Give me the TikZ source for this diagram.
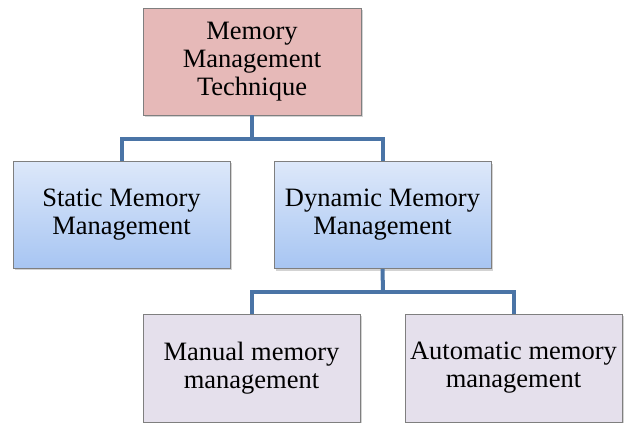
\documentclass[tikz,border=0pt]{standalone}
\usepackage{fontspec}
\setmainfont{Liberation Serif}
\usetikzlibrary{shadows}
\definecolor{topfill}{HTML}{E6B9B8}
\definecolor{bluetop}{HTML}{DDE8FA}
\definecolor{bluebot}{HTML}{A7C5F2}
\definecolor{lilac}{HTML}{E5E0EC}
\definecolor{conn}{HTML}{4A74A6}
\definecolor{edge}{HTML}{7F7F7F}
\tikzset{
  box/.style={draw=edge, line width=0.8pt, rectangle, align=center,
    font=\rmfamily\fontsize{26.5}{28}\selectfont, inner sep=0pt,
    drop shadow={shadow xshift=2pt, shadow yshift=-2pt, opacity=0.35}},
  rootbox/.style={box, fill=topfill, minimum width=218pt, minimum height=107pt},
  midbox/.style={box, top color=bluetop, bottom color=bluebot, minimum width=217pt, minimum height=107pt},
  leafbox/.style={box, fill=lilac, minimum width=217pt, minimum height=108pt},
  link/.style={draw=conn, line width=4pt}
}
\begin{document}
\begin{tikzpicture}[x=1pt,y=1pt]
\useasboundingbox (0,0) rectangle (624,-423);
\node[rootbox] (root) at (252,-61.5) {Memory\\Management\\Technique};
\node[midbox] (static) at (121.5,-214.5) {Static Memory\\Management};
\node[midbox] (dyn) at (382.5,-215) {Dynamic Memory\\Management};
\node[leafbox] (manual) at (251.5,-368) {Manual memory\\management};
\node[leafbox] (auto) at (513.5,-368) {Automatic memory\\management};
\coordinate (j1) at (252,-139);
\coordinate (j2) at (383,-292);
\draw[link] (root.south) -- (j1);
\draw[link] (static.north) |- (j1) -| (dyn.north);
\draw[link] (dyn.south) -- (j2);
\draw[link] (manual.north) |- (j2) -| (auto.north);
\end{tikzpicture}
\end{document}
